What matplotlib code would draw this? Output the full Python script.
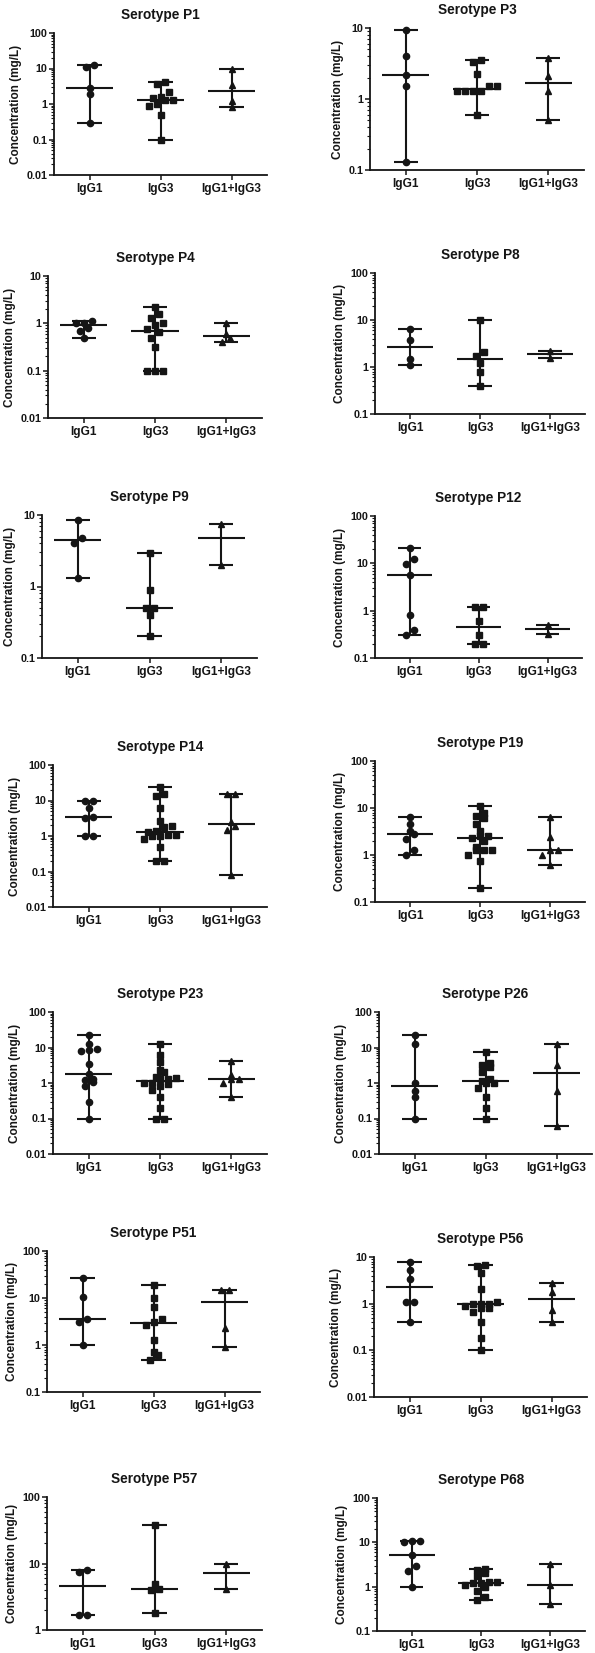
import numpy as np
import matplotlib
matplotlib.use('Agg')
import matplotlib.pyplot as plt
from matplotlib.ticker import LogLocator, NullFormatter, FuncFormatter

plt.rcParams['font.family'] = ['Liberation Sans', 'DejaVu Sans']
plt.rcParams['font.weight'] = 'bold'

categories = ['IgG1', 'IgG3', 'IgG1+IgG3']

# concentrations (mg/L)
p1_igg1 = [12.5, 11, 2.9, 1.9, 0.3]
p1_igg3 = [4.1, 3.7, 2.2, 1.6, 1.5, 1.3, 1.3, 1.0, 0.9, 0.5, 0.1]
p1_combo = [9.5, 3.5, 1.25, 0.8]

p3_igg1 = [9.3, 4.0, 2.2, 1.5, 0.13]
p3_igg3 = [3.6, 3.3, 2.25, 1.5, 1.5, 1.3, 1.3, 1.3, 1.3, 0.6]
p3_combo = [3.8, 2.1, 1.3, 0.5]

p4_igg1 = [1.1, 1.0, 1.0, 0.8, 0.68, 0.5]
p4_igg3 = [2.25, 1.6, 1.28, 1.0, 0.9, 0.75, 0.65, 0.5, 0.31, 0.1, 0.1, 0.1]
p4_combo = [1.0, 0.6, 0.48, 0.4]

p8_igg1 = [6.3, 3.7, 1.5, 1.1]
p8_igg3 = [10, 2.1, 1.68, 1.24, 0.8, 0.4]
p8_combo = [2.2, 1.55]

p9_igg1 = [8.4, 4.8, 4.0, 1.3]
p9_igg3 = [2.9, 0.9, 0.5, 0.5, 0.4, 0.2]
p9_combo = [7.5, 2.0]

p12_igg1 = [21, 12.5, 9.8, 5.8, 0.8, 0.4, 0.3]
p12_igg3 = [1.2, 1.2, 0.6, 0.3, 0.2, 0.2]
p12_combo = [0.5, 0.32]

p14_igg1 = [10, 10, 6.2, 3.4, 3.3, 1.0, 1.0]
p14_igg3 = [24, 15, 13, 6.2, 2.6, 1.9, 1.8, 1.4, 1.3, 1.1, 1.05, 1.0, 1.0,
            0.8, 0.5, 0.2, 0.2]
p14_combo = [15, 15, 2.5, 1.95, 1.45, 0.08]

p19_igg1 = [6.5, 4.6, 3.2, 2.8, 2.15, 1.3, 1.0]
p19_igg3 = [11, 7.7, 6.9, 6.0, 4.65, 3.2, 2.5, 2.5, 2.3, 2.0, 1.5, 1.3,
            1.3, 1.3, 1.0, 0.73, 0.2]
p19_combo = [6.5, 2.4, 1.3, 1.3, 0.98, 0.62]

p23_igg1 = [23, 12.5, 9, 8.5, 7.8, 3.4, 1.8, 1.3, 1.2, 1.1, 0.8, 0.3, 0.1]
p23_igg3 = [12.5, 6.2, 3.9, 2.4, 2.1, 1.5, 1.4, 1.3, 1.3, 1.0, 1.0, 0.95,
            0.8, 0.65, 0.4, 0.2, 0.1, 0.1]
p23_combo = [4.3, 1.7, 1.3, 1.3, 1.0, 0.4]

p26_igg1 = [23, 12.5, 1.0, 0.6, 0.4, 0.1]
p26_igg3 = [7.5, 3.7, 3.3, 2.8, 2.1, 1.3, 1.15, 1.0, 1.0, 0.7, 0.4, 0.2, 0.1]
p26_combo = [12.5, 3.2, 0.6, 0.06]

p51_igg1 = [27, 10.3, 3.5, 3.1, 1.0]
p51_igg3 = [19, 10, 6.5, 3.5, 3.1, 2.7, 1.3, 0.7, 0.6, 0.48]
p51_combo = [15, 14.5, 2.3, 0.9]

p56_igg1 = [7.8, 5.2, 3.4, 1.1, 1.1, 0.4]
p56_igg3 = [6.9, 6.3, 4.6, 2.05, 1.1, 1.0, 1.0, 1.0, 0.9, 0.8, 0.8, 0.65,
            0.4, 0.18, 0.1]
p56_combo = [2.75, 1.8, 0.72, 0.4]

p57_igg1 = [8, 7.5, 1.7, 1.7]
p57_igg3 = [38, 5, 4.2, 4.0, 1.8]
p57_combo = [10, 4.2]

p68_igg1 = [10.5, 10.5, 10, 5.3, 3.0, 2.2, 1.0]
p68_igg3 = [2.5, 2.4, 2.0, 1.7, 1.3, 1.3, 1.2, 1.2, 1.1, 1.0, 0.8, 0.6, 0.5]
p68_combo = [3.3, 1.1, 0.4]

# (title, groups, ylim, box in px: left, top, right, bottom)
panels = [
    ('Serotype P1', [p1_igg1, p1_igg3, p1_combo], (0.01, 100), (54, 33, 267, 175)),
    ('Serotype P3', [p3_igg1, p3_igg3, p3_combo], (0.1, 10), (370, 28, 584, 170)),
    ('Serotype P4', [p4_igg1, p4_igg3, p4_combo], (0.01, 10), (48, 276, 262, 418)),
    ('Serotype P8', [p8_igg1, p8_igg3, p8_combo], (0.1, 100), (375, 273, 585, 414)),
    ('Serotype P9', [p9_igg1, p9_igg3, p9_combo], (0.1, 10), (42, 515, 257, 658)),
    ('Serotype P12', [p12_igg1, p12_igg3, p12_combo], (0.1, 100), (375, 516, 582, 658)),
    ('Serotype P14', [p14_igg1, p14_igg3, p14_combo], (0.01, 100), (53, 765, 267, 907)),
    ('Serotype P19', [p19_igg1, p19_igg3, p19_combo], (0.1, 100), (375, 761, 585, 902)),
    ('Serotype P23', [p23_igg1, p23_igg3, p23_combo], (0.01, 100), (53, 1012, 267, 1154)),
    ('Serotype P26', [p26_igg1, p26_igg3, p26_combo], (0.01, 100), (379, 1012, 592, 1154)),
    ('Serotype P51', [p51_igg1, p51_igg3, p51_combo], (0.1, 100), (47, 1251, 260, 1392)),
    ('Serotype P56', [p56_igg1, p56_igg3, p56_combo], (0.01, 10), (374, 1257, 587, 1397)),
    ('Serotype P57', [p57_igg1, p57_igg3, p57_combo], (1, 100), (47, 1497, 262, 1630)),
    ('Serotype P68', [p68_igg1, p68_igg3, p68_combo], (0.1, 100), (377, 1498, 585, 1631)),
]

ink = '#151515'
markers = ['o', 's', '^']
msizes = [4.5, 3.9, 4.5]
W, H = 595, 1653


def swarm(ax, x0, vals, diam=6.0, step=8.0):
    # spread points that would overlap, in pixel space
    pts = ax.transData.transform(np.column_stack([np.full(len(vals), x0), vals]))
    ys = pts[:, 1]
    ppu = ax.transData.transform([[1, 1]])[0, 0] - ax.transData.transform([[0, 1]])[0, 0]
    order = np.argsort(ys)
    offs = np.zeros(len(vals))
    rows = []
    for i in order:
        if rows and ys[i] - ys[rows[-1][0]] < diam:
            rows[-1].append(i)
        else:
            rows.append([i])
    for row in rows:
        n = len(row)
        for k, i in enumerate(row):
            offs[i] = (k - (n - 1) / 2) * step / ppu
    return offs


fig = plt.figure(figsize=(W / 100, H / 100), dpi=100)

for title, groups, ylim, (l, t, r, b) in panels:
    ax = fig.add_axes([l / W, 1 - b / H, (r - l) / W, (b - t) / H])
    ax.set_yscale('log')
    ax.set_ylim(ylim)
    ax.set_xlim(-0.5, 2.5)
    for i, vals in enumerate(groups):
        v = np.array(vals, dtype=float)
        med, lo, hi = np.median(v), v.min(), v.max()
        ax.plot([i, i], [lo, hi], color=ink, lw=1.5, zorder=2, solid_capstyle='butt')
        ax.hlines([lo, hi], i - 0.17, i + 0.17, color=ink, lw=1.5, zorder=2)
        ax.hlines(med, i - 0.33, i + 0.33, color=ink, lw=1.5, zorder=2)
        xs = i + swarm(ax, i, v)
        ax.plot(xs, v, ls='none', marker=markers[i], ms=msizes[i], color=ink,
                mec=ink, zorder=3, clip_on=False)

    ax.set_xticks(range(len(categories)))
    ax.set_xticklabels(categories, fontsize=8.6, fontweight='bold')
    ax.yaxis.set_major_locator(LogLocator(base=10, numticks=10))
    ax.yaxis.set_minor_locator(LogLocator(base=10, subs=np.arange(2, 10), numticks=10))
    ax.yaxis.set_minor_formatter(NullFormatter())
    ax.yaxis.set_major_formatter(FuncFormatter(lambda y, p: '%g' % y))
    for lab in ax.get_yticklabels():
        lab.set_fontweight('bold')
    ax.tick_params(axis='y', which='major', length=3.5, width=1.1, labelsize=7.8, pad=1.5,
                   colors=ink)
    ax.tick_params(axis='y', which='minor', length=2, width=0.8, colors=ink)
    ax.tick_params(axis='x', which='major', length=3.5, width=1.1, pad=2, colors=ink)
    for s in ['top', 'right']:
        ax.spines[s].set_visible(False)
    for s in ['left', 'bottom']:
        ax.spines[s].set_linewidth(1.3)
        ax.spines[s].set_color(ink)
    ax.set_ylabel('Concentration (mg/L)', fontsize=8.5, fontweight='bold', labelpad=3,
                  color=ink)
    ax.set_title(title, fontsize=9.8, fontweight='bold', pad=10, color=ink)

fig.savefig('out.png', dpi=100)
